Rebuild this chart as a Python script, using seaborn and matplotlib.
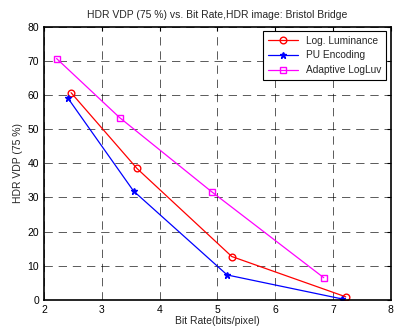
import matplotlib
matplotlib.use('Agg')
import matplotlib.pyplot as plt
import seaborn as sns
import pandas as pd

# values
log_lum_x = [2.47, 3.61, 5.25, 7.22]
log_lum_y = [60.7, 38.5, 12.7, 0.9]
pu_x = [2.42, 3.55, 5.17, 7.15]
pu_y = [59.0, 31.9, 7.3, 0.3]
logluv_x = [2.22, 3.31, 4.90, 6.84]
logluv_y = [70.7, 53.4, 31.7, 6.5]

series = ['Log. Luminance', 'PU Encoding', 'Adaptive LogLuv']
colors = ['red', 'blue', 'magenta']
markers = ['o', '*', 's']

df = pd.concat([
    pd.DataFrame({'x': log_lum_x, 'y': log_lum_y, 'method': series[0]}),
    pd.DataFrame({'x': pu_x, 'y': pu_y, 'method': series[1]}),
    pd.DataFrame({'x': logluv_x, 'y': logluv_y, 'method': series[2]}),
])

sns.set_style('white')
plt.rcParams['font.family'] = ['Liberation Sans', 'DejaVu Sans']

fig = plt.figure(figsize=(4.14, 3.31), dpi=100)
ax = fig.add_axes([0.106, 0.094, 0.838, 0.825])

for name, col, mk in zip(series, colors, markers):
    d = df[df['method'] == name]
    sns.lineplot(data=d, x='x', y='y', ax=ax, color=col, linewidth=0.9,
                 marker=mk, markersize=4.8,
                 markerfacecolor='none' if mk != '*' else col,
                 markeredgecolor=col, markeredgewidth=1.0,
                 label=name, estimator=None, sort=False)

ax.set_xlim(2, 8)
ax.set_ylim(0, 80)
ax.set_xticks(range(2, 9))
ax.set_yticks(range(0, 81, 10))
ax.grid(True, color='black', linestyle=(0, (10, 7)), linewidth=0.6, alpha=0.75)
for s in ax.spines.values():
    s.set_color('black')
    s.set_linewidth(1.2)
ax.tick_params(labelsize=7.5, length=3, direction='in', colors='black',
               top=True, right=True)
ax.set_xlabel('Bit Rate(bits/pixel)', fontsize=7.5, labelpad=1)
ax.set_ylabel('HDR VDP (75 %)', fontsize=7.5, labelpad=3)
ax.set_title('HDR VDP (75 %) vs. Bit Rate,HDR image: Bristol Bridge', fontsize=7.5, pad=6)

leg = ax.legend(loc='upper right', fontsize=7.3, frameon=True, fancybox=False,
                edgecolor='black', borderpad=0.45, handlelength=3.0,
                labelspacing=0.45, borderaxespad=0.45, framealpha=1)
leg.get_frame().set_linewidth(0.8)

fig.savefig('out.png', dpi=100)
